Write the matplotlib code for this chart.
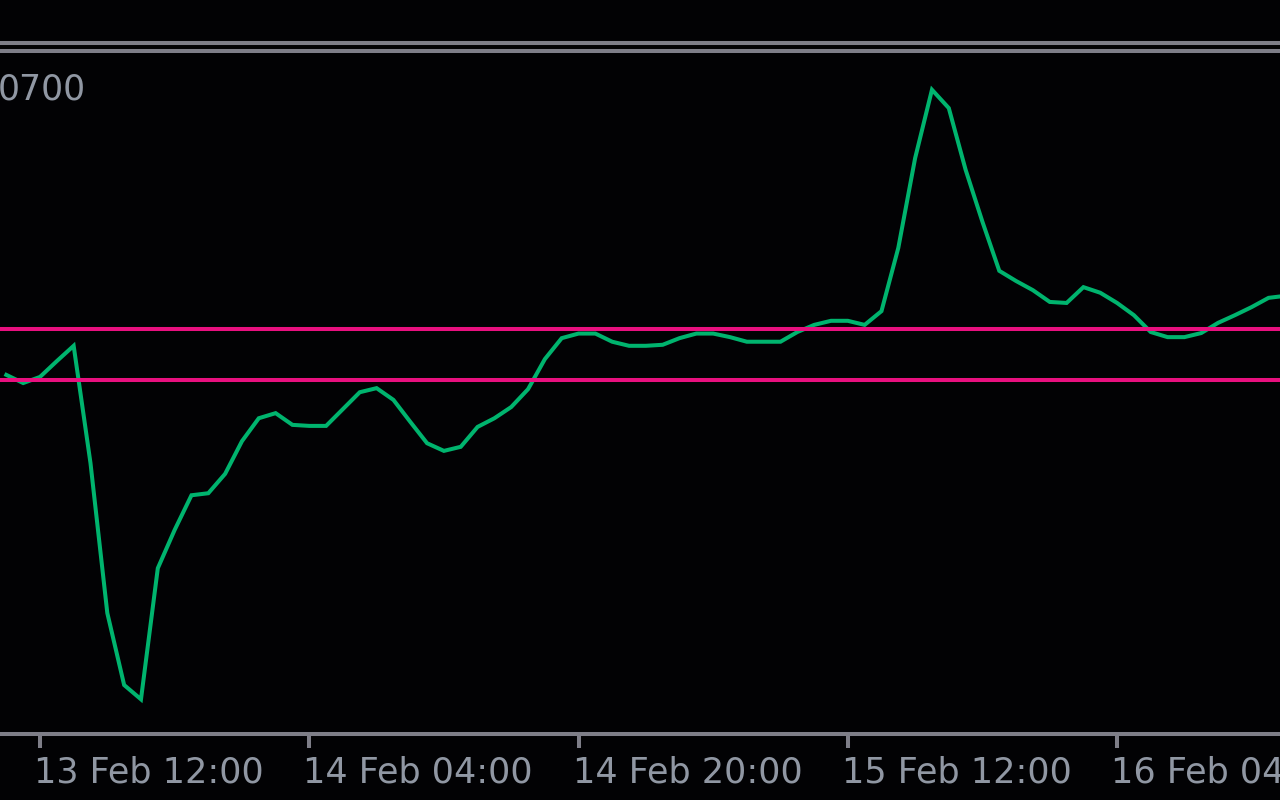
import matplotlib
matplotlib.use('Agg')
import matplotlib.pyplot as plt
import matplotlib.dates as mdates
from matplotlib.lines import Line2D
from matplotlib.transforms import ScaledTranslation
import pandas as pd

# hourly indicator values, starting 13 Feb 10:00
start = pd.Timestamp('2024-02-13 10:00')
values = [10, -6, 6, 37, 67, -163, -457, -598, -626, -369,
          -294, -226, -222, -184, -120, -75, -65, -88, -90, -90,
          -57, -24, -16, -39, -82, -124, -139, -131, -92, -75,
          -53, -18, 41, 82, 91, 91, 75, 67, 67, 69,
          82, 91, 91, 84, 75, 75, 75, 94, 108, 116,
          116, 108, 135, 259, 435, 569, 533, 412, 310, 214,
          194, 176, 153, 151, 182, 171, 151, 127, 94, 84,
          84, 92, 112, 127, 143, 161, 165]
times = pd.date_range(start, periods=len(values), freq='h')

levels = [0, 100]
tick_times = pd.to_datetime(['2024-02-13 12:00', '2024-02-14 04:00', '2024-02-14 20:00',
                             '2024-02-15 12:00', '2024-02-16 04:00'])
corner_label = '0700'

bg = '#020204'
grey = '#7e7e88'
text_col = '#9097a3'
line_col = '#00b46e'
level_col = '#e8107f'
lw = 2.9

fig = plt.figure(figsize=(12.8, 8), dpi=100, facecolor=bg)
ax = fig.add_axes([0, 66 / 800, 1, 681 / 800], facecolor=bg)

ax.plot(times, values, color=line_col, linewidth=lw, zorder=2,
        solid_joinstyle='miter')
for lv in levels:
    ax.axhline(lv, color=level_col, linewidth=lw, zorder=3)

t0 = pd.Timestamp('2024-02-13 12:00')
ax.set_xlim(t0 - pd.Timedelta(hours=2.377), t0 + pd.Timedelta(hours=73.68))
ax.set_ylim(-694, 641)

for s in ['top', 'left', 'right']:
    ax.spines[s].set_visible(False)
ax.spines['bottom'].set_color(grey)
ax.spines['bottom'].set_linewidth(lw)
ax.set_yticks([])
ax.set_xticks(tick_times)
ax.xaxis.set_major_formatter(mdates.DateFormatter('%d %b %H:%M'))
ax.tick_params(axis='x', direction='out', length=10, width=lw, color=grey,
               labelcolor=text_col, labelsize=25.2, pad=5.5)
offset = ScaledTranslation(-6 / 100, 0, fig.dpi_scale_trans)
for lab in ax.get_xticklabels():
    lab.set_ha('left')
    lab.set_transform(lab.get_transform() + offset)

# window separator lines at the top
for yp in (43, 51):
    fig.add_artist(Line2D([0, 1], [1 - yp / 800, 1 - yp / 800], transform=fig.transFigure,
                          color=grey, linewidth=lw))

fig.text(-0.002, 1 - 90 / 800, corner_label, color=text_col, fontsize=25,
         ha='left', va='center')

fig.savefig('out.png', dpi=100, facecolor=bg)
